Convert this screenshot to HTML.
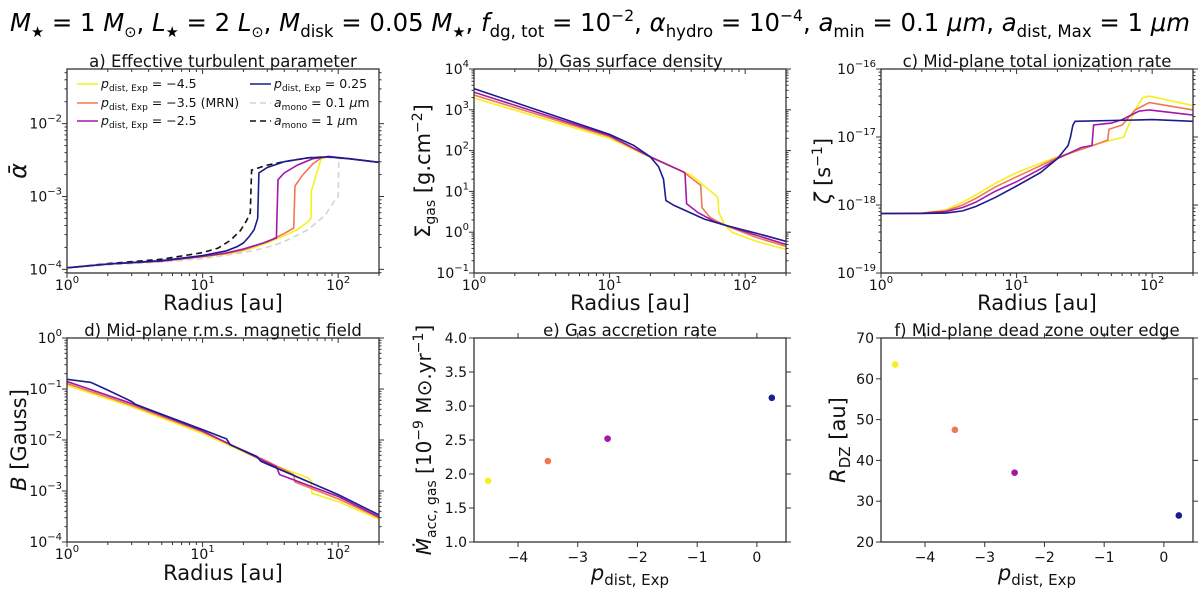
<!DOCTYPE html>
<html><head><meta charset="utf-8">
<style>
html,body{margin:0;padding:0;background:#fff;}
svg{display:block;font-family:"DejaVu Sans","Liberation Sans",sans-serif;}
</style></head>
<body>
<svg id="fig" width="1200" height="589" viewBox="0 0 1200 589" xmlns="http://www.w3.org/2000/svg">
<text x="600" y="31" text-anchor="middle" font-size="25" textLength="1180" lengthAdjust="spacingAndGlyphs"><tspan font-style="italic">M</tspan><tspan font-size="15" dy="6">★</tspan><tspan dy="-6"> = 1 </tspan><tspan font-style="italic">M</tspan><tspan font-size="15" dy="6">⊙</tspan><tspan dy="-6">, </tspan><tspan font-style="italic">L</tspan><tspan font-size="15" dy="6">★</tspan><tspan dy="-6"> = 2 </tspan><tspan font-style="italic">L</tspan><tspan font-size="15" dy="6">⊙</tspan><tspan dy="-6">, </tspan><tspan font-style="italic">M</tspan><tspan font-size="17" dy="6">disk</tspan><tspan dy="-6"> = 0.05 </tspan><tspan font-style="italic">M</tspan><tspan font-size="15" dy="6">★</tspan><tspan dy="-6">, </tspan><tspan font-style="italic">f</tspan><tspan font-size="17" dy="6">dg, tot</tspan><tspan dy="-6"> = 10</tspan><tspan font-size="16" dy="-10">−2</tspan><tspan dy="10">, </tspan><tspan font-style="italic">α</tspan><tspan font-size="17" dy="6">hydro</tspan><tspan dy="-6"> = 10</tspan><tspan font-size="16" dy="-10">−4</tspan><tspan dy="10">, </tspan><tspan font-style="italic">a</tspan><tspan font-size="17" dy="6">min</tspan><tspan dy="-6"> = 0.1 </tspan><tspan font-style="italic">μm</tspan><tspan>, </tspan><tspan font-style="italic">a</tspan><tspan font-size="17" dy="6">dist, Max</tspan><tspan dy="-6"> = 1 </tspan><tspan font-style="italic">μm</tspan></text>
<g id="layer"></g>
</svg>
<script>
// ---------- data ----------
const colors = ["#f5f01e","#f07850","#a418a8","#1c1c8e"];
const seriesNames = ["p-4.5","p-3.5","p-2.5","p0.25"];
// panel a: alpha
const alphaYellowR=[1,2,5,10,15,20,30,40,50,60,63,63.5,66,70,75,85,120,200];
const alphaYellowV=[1.05e-4,1.18e-4,1.3e-4,1.48e-4,1.62e-4,1.8e-4,2.3e-4,2.9e-4,3.5e-4,4.5e-4,5e-4,1.2e-3,1.5e-3,2.2e-3,3.3e-3,3.5e-3,3.3e-3,2.95e-3];
const alphaOrangeR=[1,2,5,10,15,20,30,40,47,48,55,65,75,85,120,200];
const alphaOrangeV=[1.05e-4,1.18e-4,1.3e-4,1.5e-4,1.65e-4,1.85e-4,2.4e-4,3.1e-4,3.7e-4,1.4e-3,2e-3,2.8e-3,3.4e-3,3.55e-3,3.3e-3,2.95e-3];
const alphaPurpleR=[1,2,5,10,15,20,28,35,36,40,50,65,85,120,200];
const alphaPurpleV=[1.05e-4,1.18e-4,1.3e-4,1.5e-4,1.68e-4,1.9e-4,2.3e-4,2.7e-4,1.7e-3,2.1e-3,2.7e-3,3.3e-3,3.55e-3,3.3e-3,2.95e-3];
const alphaBlueR=[1,2,5,10,15,18,20,22,24,25.5,26,30,40,60,85,120,200];
const alphaBlueV=[1.05e-4,1.18e-4,1.32e-4,1.55e-4,1.8e-4,2.05e-4,2.3e-4,2.8e-4,3.5e-4,5e-4,2.1e-3,2.5e-3,3e-3,3.4e-3,3.5e-3,3.3e-3,2.95e-3];
const alphaGreyR=[1,2,5,10,20,30,40,60,80,95,100,101,120,200];
const alphaGreyV=[1.05e-4,1.15e-4,1.26e-4,1.4e-4,1.7e-4,2e-4,2.4e-4,3.5e-4,5.5e-4,9e-4,1e-3,3.3e-3,3.3e-3,2.95e-3];
const alphaBlackR=[1,2,5,10,13,16,19,21,22.5,23,30,40,60,80,120,200];
const alphaBlackV=[1.05e-4,1.2e-4,1.38e-4,1.7e-4,1.95e-4,2.5e-4,3.4e-4,4.6e-4,6e-4,2.3e-3,2.7e-3,3e-3,3.4e-3,3.5e-3,3.3e-3,2.95e-3];
// panel b: sigma
const sigYellowR=[1,10,20,40,62,63,64,70,80,120,200];
const sigYellowV=[1950,200,68,25,7.5,6.5,3,1.6,1.0,0.6,0.38];
const sigOrangeR=[1,10,20,35,47,48,55,70,120,200];
const sigOrangeV=[2300,220,70,30,14,4,2.3,1.5,0.75,0.45];
const sigPurpleR=[1,10,20,35,36,37,45,60,120,200];
const sigPurpleV=[2700,235,70,30,28,5,3,1.8,0.85,0.5];
const sigBlueR=[1,10,15,20,23,25,26,30,50,70,120,200];
const sigBlueV=[3300,250,135,70,40,20,6,4.5,2.1,1.5,0.95,0.6];
// panel c: zeta
const zetaYellowR=[1,2,3,4,5,7,10,15,20,40,62,64,75,85,95,200];
const zetaYellowV=[7.5e-19,7.6e-19,8.5e-19,1.1e-18,1.4e-18,2.1e-18,3e-18,4.1e-18,5.1e-18,8e-18,1e-17,1.2e-17,2.5e-17,3.8e-17,4e-17,2.9e-17];
const zetaOrangeR=[1,2,3,4,5,7,10,15,20,40,47,48,60,75,95,200];
const zetaOrangeV=[7.5e-19,7.6e-19,8.2e-19,1e-18,1.25e-18,1.85e-18,2.6e-18,3.8e-18,5e-18,8e-18,9e-18,1.3e-17,1.5e-17,2.5e-17,3.2e-17,2.5e-17];
const zetaPurpleR=[1,2,3,4,5,7,10,15,20,30,36,37,50,60,80,95,200];
const zetaPurpleV=[7.5e-19,7.55e-19,8e-19,9.2e-19,1.1e-18,1.6e-18,2.2e-18,3.4e-18,4.8e-18,7e-18,7.5e-18,1.5e-17,1.6e-17,1.8e-17,2.4e-17,2.5e-17,2.1e-17];
const zetaBlueR=[1,2,3,4,5,7,10,15,20,24,25,26,27,50,100,200];
const zetaBlueV=[7.5e-19,7.5e-19,7.6e-19,8.2e-19,9.5e-19,1.3e-18,1.9e-18,3e-18,4.8e-18,7.5e-18,1e-17,1.5e-17,1.7e-17,1.75e-17,1.8e-17,1.7e-17];
// panel d: B
const bYellowR=[1,3,10,30,60,63,64,100,200];
const bYellowV=[0.118,0.045,0.0135,0.0036,0.0018,0.0016,0.0009,0.00062,0.00028];
const bOrangeR=[1,3,10,30,47,48,100,200];
const bOrangeV=[0.128,0.048,0.0145,0.0038,0.0021,0.0015,0.0007,0.0003];
const bPurpleR=[1,3,10,30,35,37,100,200];
const bPurpleV=[0.14,0.052,0.015,0.0036,0.003,0.0021,0.00078,0.00031];
const bBlueR=[1,1.5,2,3,3.2,10,15,16,25,27,100,200];
const bBlueV=[0.155,0.135,0.095,0.057,0.05,0.016,0.0105,0.008,0.0048,0.0038,0.00085,0.00034];
// panels e/f: scatter
const pExp=[-4.5,-3.5,-2.5,0.25];
const mdot=[1.9,2.19,2.52,3.12];
const rdz=[63.5,47.5,37.0,26.5];

// ---------- helpers ----------
const NS="http://www.w3.org/2000/svg";
const layer=document.getElementById("layer");
function mk(tag,attrs,parent){const e=document.createElementNS(NS,tag);for(const k in attrs)e.setAttribute(k,attrs[k]);(parent||layer).appendChild(e);return e;}
function logAx(lo,hi,p0,p1){return v=>p0+(Math.log10(v)-lo)/(hi-lo)*(p1-p0);}
function linAx(lo,hi,p0,p1){return v=>p0+(v-lo)/(hi-lo)*(p1-p0);}

function frame(P,name){
  const r=mk("rect",{x:P.x0,y:P.y0,width:P.x1-P.x0,height:P.y1-P.y0,fill:"none",stroke:"#333","stroke-width":1.3});
  
  
}
function tick(x1,y1,x2,y2){mk("line",{x1:x1,y1:y1,x2:x2,y2:y2,stroke:"#333","stroke-width":1});}
function powLabel(x,y,exp,anchor,name){
  const t=mk("text",{x:x,y:y,"font-size":14,"text-anchor":anchor,fill:"#111"});
  
  
  const a=mk("tspan",{},t);a.textContent="10";
  const b=mk("tspan",{"font-size":10,dy:-7},t);b.textContent=(exp<0?"−":"")+Math.abs(exp);
}
function logXAxis(P,sx,name){
  for(let d=0;d<=2;d++){for(let m=1;m<=9;m++){const v=m*Math.pow(10,d);if(v>200)break;const x=sx(v);const L=m===1?5:3;
    tick(x,P.y1,x,P.y1+L);tick(x,P.y0,x,P.y0+L);}
    powLabel(sx(Math.pow(10,d)),P.y1+17,d,"middle",name+'-xtick-'+d);}
  tick(sx(200),P.y1,sx(200),P.y1+3);
}
function logYAxis(P,sy,lo,hi,name){
  for(let d=Math.floor(lo);d<=Math.ceil(hi);d++){for(let m=1;m<=9;m++){const v=m*Math.pow(10,d);const lv=Math.log10(v);if(lv<lo-1e-9||lv>hi+1e-9)continue;const y=sy(v);const L=m===1?5:2.5;
    tick(P.x0-L,y,P.x0,y);tick(P.x1,y,P.x1+L,y);}
    if(d>=lo-1e-9&&d<=hi+1e-9)powLabel(P.x0-5,sy(Math.pow(10,d))+5,d,"end",name+'-ytick-'+d);}
}
function linXAxis(P,sx,ticks,name){ticks.forEach(v=>{const x=sx(v);tick(x,P.y1,x,P.y1+5);tick(x,P.y0-5,x,P.y0);
  const t=mk("text",{x:x,y:P.y1+20,"font-size":14,"text-anchor":"middle",fill:"#111"});t.textContent=(v<0?"−":"")+Math.abs(v);
  
  });}
function linYAxis(P,sy,ticks,fmt,name){ticks.forEach(v=>{const y=sy(v);tick(P.x0-5,y,P.x0,y);tick(P.x1,y,P.x1+5,y);
  const t=mk("text",{x:P.x0-7,y:y+5,"font-size":14,"text-anchor":"end",fill:"#111"});t.textContent=fmt(v);
  
  });}
function line(R,V,sx,sy,color,name,dash,P){
  const d=R.map((r,i)=>(i?"L":"M")+sx(r).toFixed(1)+","+sy(V[i]).toFixed(1)).join(" ");
  const p=mk("path",{d:d,fill:"none",stroke:color,"stroke-width":1.6,"stroke-dasharray":dash||"none","clip-path":"url(#"+P.clip+")"});
  
  
}
function clip(P,id){const defs=mk("defs",{});const c=mk("clipPath",{id:id},defs);mk("rect",{x:P.x0,y:P.y0,width:P.x1-P.x0,height:P.y1-P.y0},c);P.clip=id;}
function title(P,txt,name){const t=mk("text",{x:(P.x0+P.x1)/2,y:P.y0-2,"font-size":16.5,"text-anchor":"middle",fill:"#111"});t.textContent=txt;
  
  }
function xlabel(P,y,html,name){const t=mk("text",{x:(P.x0+P.x1)/2,y:y,"font-size":21,"text-anchor":"middle",fill:"#111"});t.innerHTML=html;
  
  }
function ylabel(x,P,html,name,fs){const cy=(P.y0+P.y1)/2;const t=mk("text",{x:x,y:cy,"font-size":fs||21,"text-anchor":"middle",fill:"#111",transform:"rotate(-90 "+x+" "+cy+")"});t.innerHTML=html;
  
  }

const cols=[[67,379],[474,786],[881,1193]];
const rows=[[69,273],[338,542]];
const PA={x0:cols[0][0],x1:cols[0][1],y0:rows[0][0],y1:rows[0][1]};
const PB={x0:cols[1][0],x1:cols[1][1],y0:rows[0][0],y1:rows[0][1]};
const PC={x0:cols[2][0],x1:cols[2][1],y0:rows[0][0],y1:rows[0][1]};
const PD={x0:cols[0][0],x1:cols[0][1],y0:rows[1][0],y1:rows[1][1]};
const PE={x0:cols[1][0],x1:cols[1][1],y0:rows[1][0],y1:rows[1][1]};
const PF={x0:cols[2][0],x1:cols[2][1],y0:rows[1][0],y1:rows[1][1]};
[[PA,"ca"],[PB,"cb"],[PC,"cc"],[PD,"cd"],[PE,"ce"],[PF,"cf"]].forEach(a=>clip(a[0],a[1]));
const radLabel='Radius [au]';
const topXL=310, botXL=580;

// ----- panel a -----
{const sx=logAx(0,Math.log10(200),PA.x0,PA.x1),lo=-4.05,hi=-1.25,sy=logAx(lo,hi,PA.y1,PA.y0);
 line(alphaGreyR,alphaGreyV,sx,sy,"#d4d4d4","alpha-amono-0.1um","6,4",PA);
 line(alphaBlackR,alphaBlackV,sx,sy,"#111","alpha-amono-1um","6,4",PA);
 line(alphaYellowR,alphaYellowV,sx,sy,colors[0],"alpha-p-4.5",null,PA);
 line(alphaOrangeR,alphaOrangeV,sx,sy,colors[1],"alpha-p-3.5",null,PA);
 line(alphaPurpleR,alphaPurpleV,sx,sy,colors[2],"alpha-p-2.5",null,PA);
 line(alphaBlueR,alphaBlueV,sx,sy,colors[3],"alpha-p0.25",null,PA);
 frame(PA,"panel-a");logXAxis(PA,sx,"panel-a");logYAxis(PA,sy,lo,hi,"panel-a");
 title(PA,"a) Effective turbulent parameter","panel-a-title");
 xlabel(PA,topXL,radLabel,"panel-a-x-label");
 ylabel(26,PA,'<tspan font-style="italic">ᾱ</tspan>',"panel-a-y-label",24);
 const leg=[[77,84,colors[0],null,'<tspan font-style="italic">p</tspan><tspan font-size="9" dy="3">dist, Exp</tspan><tspan dy="-3"> = −4.5</tspan>'],
  [77,103,colors[1],null,'<tspan font-style="italic">p</tspan><tspan font-size="9" dy="3">dist, Exp</tspan><tspan dy="-3"> = −3.5 (MRN)</tspan>'],
  [77,121,colors[2],null,'<tspan font-style="italic">p</tspan><tspan font-size="9" dy="3">dist, Exp</tspan><tspan dy="-3"> = −2.5</tspan>'],
  [250,84,colors[3],null,'<tspan font-style="italic">p</tspan><tspan font-size="9" dy="3">dist, Exp</tspan><tspan dy="-3"> = 0.25</tspan>'],
  [250,103,"#d4d4d4","6,4",'<tspan font-style="italic">a</tspan><tspan font-size="9" dy="3">mono</tspan><tspan dy="-3"> = 0.1 </tspan><tspan font-style="italic">μ</tspan>m'],
  [250,121,"#111","6,4",'<tspan font-style="italic">a</tspan><tspan font-size="9" dy="3">mono</tspan><tspan dy="-3"> = 1 </tspan><tspan font-style="italic">μ</tspan>m']];
 leg.forEach(l=>{const g=mk("g",{});
  
  
  mk("line",{x1:l[0],y1:l[1],x2:l[0]+21,y2:l[1],stroke:l[2],"stroke-width":1.6,"stroke-dasharray":l[3]||"none"},g);
  const t=mk("text",{x:l[0]+24,y:l[1]+4,"font-size":12.5,fill:"#111"},g);t.innerHTML=l[4];});
}
// ----- panel b -----
{const sx=logAx(0,Math.log10(200),PB.x0,PB.x1),lo=-1,hi=4,sy=logAx(lo,hi,PB.y1,PB.y0);
 line(sigYellowR,sigYellowV,sx,sy,colors[0],"sigma-p-4.5",null,PB);
 line(sigOrangeR,sigOrangeV,sx,sy,colors[1],"sigma-p-3.5",null,PB);
 line(sigPurpleR,sigPurpleV,sx,sy,colors[2],"sigma-p-2.5",null,PB);
 line(sigBlueR,sigBlueV,sx,sy,colors[3],"sigma-p0.25",null,PB);
 frame(PB,"panel-b");logXAxis(PB,sx,"panel-b");logYAxis(PB,sy,lo,hi,"panel-b");
 title(PB,"b) Gas surface density","panel-b-title");
 xlabel(PB,topXL,radLabel,"panel-b-x-label");
 ylabel(430,PB,'Σ<tspan font-size="14" dy="5">gas</tspan><tspan dy="-5"> [g.cm</tspan><tspan font-size="14" dy="-8">−2</tspan><tspan dy="8">]</tspan>',"panel-b-y-label");
}
// ----- panel c -----
{const sx=logAx(0,Math.log10(200),PC.x0,PC.x1),lo=-19,hi=-16,sy=logAx(lo,hi,PC.y1,PC.y0);
 line(zetaYellowR,zetaYellowV,sx,sy,colors[0],"zeta-p-4.5",null,PC);
 line(zetaOrangeR,zetaOrangeV,sx,sy,colors[1],"zeta-p-3.5",null,PC);
 line(zetaPurpleR,zetaPurpleV,sx,sy,colors[2],"zeta-p-2.5",null,PC);
 line(zetaBlueR,zetaBlueV,sx,sy,colors[3],"zeta-p0.25",null,PC);
 frame(PC,"panel-c");logXAxis(PC,sx,"panel-c");logYAxis(PC,sy,lo,hi,"panel-c");
 title(PC,"c) Mid-plane total ionization rate","panel-c-title");
 xlabel(PC,topXL,radLabel,"panel-c-x-label");
 ylabel(830,PC,'<tspan font-style="italic">ζ</tspan> [s<tspan font-size="14" dy="-8">−1</tspan><tspan dy="8">]</tspan>',"panel-c-y-label");
}
// ----- panel d -----
{const sx=logAx(0,Math.log10(200),PD.x0,PD.x1),lo=-4,hi=0,sy=logAx(lo,hi,PD.y1,PD.y0);
 line(bYellowR,bYellowV,sx,sy,colors[0],"b-p-4.5",null,PD);
 line(bOrangeR,bOrangeV,sx,sy,colors[1],"b-p-3.5",null,PD);
 line(bPurpleR,bPurpleV,sx,sy,colors[2],"b-p-2.5",null,PD);
 line(bBlueR,bBlueV,sx,sy,colors[3],"b-p0.25",null,PD);
 frame(PD,"panel-d");logXAxis(PD,sx,"panel-d");logYAxis(PD,sy,lo,hi,"panel-d");
 title(PD,"d) Mid-plane r.m.s. magnetic field","panel-d-title");
 xlabel(PD,botXL,radLabel,"panel-d-x-label");
 ylabel(26,PD,'<tspan font-style="italic">B</tspan> [Gauss]',"panel-d-y-label");
}
// ----- panel e -----
{const sx=linAx(-4.7375,0.4875,PE.x0,PE.x1),sy=linAx(1,4,PE.y1,PE.y0);
 frame(PE,"panel-e");linXAxis(PE,sx,[-4,-3,-2,-1,0],"panel-e");linYAxis(PE,sy,[1,1.5,2,2.5,3,3.5,4],v=>v.toFixed(1),"panel-e");
 pExp.forEach((p,i)=>{const c=mk("circle",{cx:sx(p),cy:sy(mdot[i]),r:3.3,fill:colors[i]});
  
  });
 title(PE,"e) Gas accretion rate","panel-e-title");
 xlabel(PE,botXL,'<tspan font-style="italic">p</tspan><tspan font-size="15" dy="5">dist, Exp</tspan>',"panel-e-x-label");
 ylabel(431,PE,'<tspan font-style="italic">Ṁ</tspan><tspan font-size="14" dy="5">acc, gas</tspan><tspan dy="-5"> [10</tspan><tspan font-size="14" dy="-8">−9</tspan><tspan dy="8"> M⊙.yr</tspan><tspan font-size="14" dy="-8">−1</tspan><tspan dy="8">]</tspan>',"panel-e-y-label",20);
}
// ----- panel f -----
{const sx=linAx(-4.7375,0.4875,PF.x0,PF.x1),sy=linAx(20,70,PF.y1,PF.y0);
 frame(PF,"panel-f");linXAxis(PF,sx,[-4,-3,-2,-1,0],"panel-f");linYAxis(PF,sy,[20,30,40,50,60,70],v=>String(v),"panel-f");
 pExp.forEach((p,i)=>{const c=mk("circle",{cx:sx(p),cy:sy(rdz[i]),r:3.3,fill:colors[i]});
  
  });
 title(PF,"f) Mid-plane dead zone outer edge","panel-f-title");
 xlabel(PF,botXL,'<tspan font-style="italic">p</tspan><tspan font-size="15" dy="5">dist, Exp</tspan>',"panel-f-x-label");
 ylabel(845,PF,'<tspan font-style="italic">R</tspan><tspan font-size="15" dy="5">DZ</tspan><tspan dy="-5"> [au]</tspan>',"panel-f-y-label");
}
</script>
</body></html>
